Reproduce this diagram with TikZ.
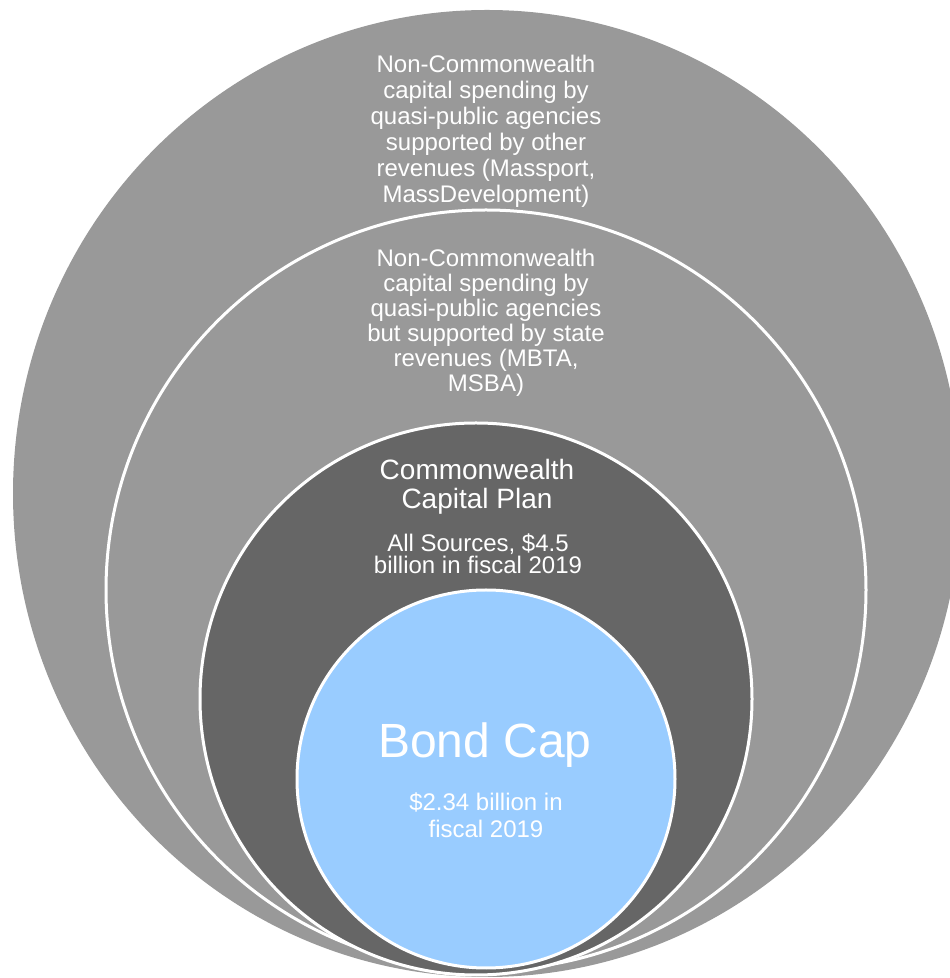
\documentclass[tikz,border=0pt]{standalone}
\usepackage{fontspec}
\setmainfont{Liberation Sans}
\usepackage{tikz}
\usetikzlibrary{shapes}
\definecolor{lgray}{RGB}{153,153,153}
\definecolor{dgray}{RGB}{102,102,102}
\definecolor{lblue}{RGB}{153,204,255}
\pgfdeclarelayer{disclayer}
\pgfdeclarelayer{textlayer}
\pgfsetlayers{disclayer,textlayer,main}
\tikzstyle{outerdisc}=[ellipse,fill=lgray,draw=none,inner sep=0pt,minimum width=948pt,minimum height=967pt]
\tikzstyle{disc}=[circle,draw=white,line width=3pt,inner sep=0pt]
\tikzstyle{ringtext}=[text=white,align=center,inner sep=0pt,font=\fontsize{24}{26}\selectfont]

\begin{document}
\begin{tikzpicture}[x=1pt,y=1pt]
	\useasboundingbox (0,0) rectangle (950,978);
	\begin{pgfonlayer}{disclayer}
		\node [style=outerdisc] (outer) at (487, 484.5) {};
		\node [style=disc, fill=lgray, minimum size=760pt] (state) at (486, 388) {};
		\node [style=disc, fill=dgray, minimum size=552pt] (plan) at (476, 279) {};
		\node [style=disc, fill=lblue, minimum size=378pt] (cap) at (486, 199) {};
	\end{pgfonlayer}
	\begin{pgfonlayer}{textlayer}
		\node [style=ringtext] (outertext) at (486, 847) {Non-Commonwealth\\capital spending by\\quasi-public agencies\\supported by other\\revenues (Massport,\\MassDevelopment)};
		\node [style=ringtext, font=\fontsize{24}{25}\selectfont] (statetext) at (486, 655.5) {Non-Commonwealth\\capital spending by\\quasi-public agencies\\but supported by state\\revenues (MBTA,\\MSBA)};
		\node [style=ringtext, font=\fontsize{28}{29}\selectfont] (plantitle) at (477, 491) {Commonwealth\\Capital Plan};
		\node [style=ringtext, font=\fontsize{24}{22}\selectfont] (plantext) at (478, 424) {All Sources, \$4.5\\billion in fiscal 2019};
		\node [style=ringtext, font=\fontsize{48}{50}\selectfont] (captitle) at (485, 233) {Bond Cap};
		\node [style=ringtext, font=\fontsize{24}{27}\selectfont] (captext) at (486, 163) {\$2.34 billion in\\fiscal 2019};
	\end{pgfonlayer}
\end{tikzpicture}
\end{document}
